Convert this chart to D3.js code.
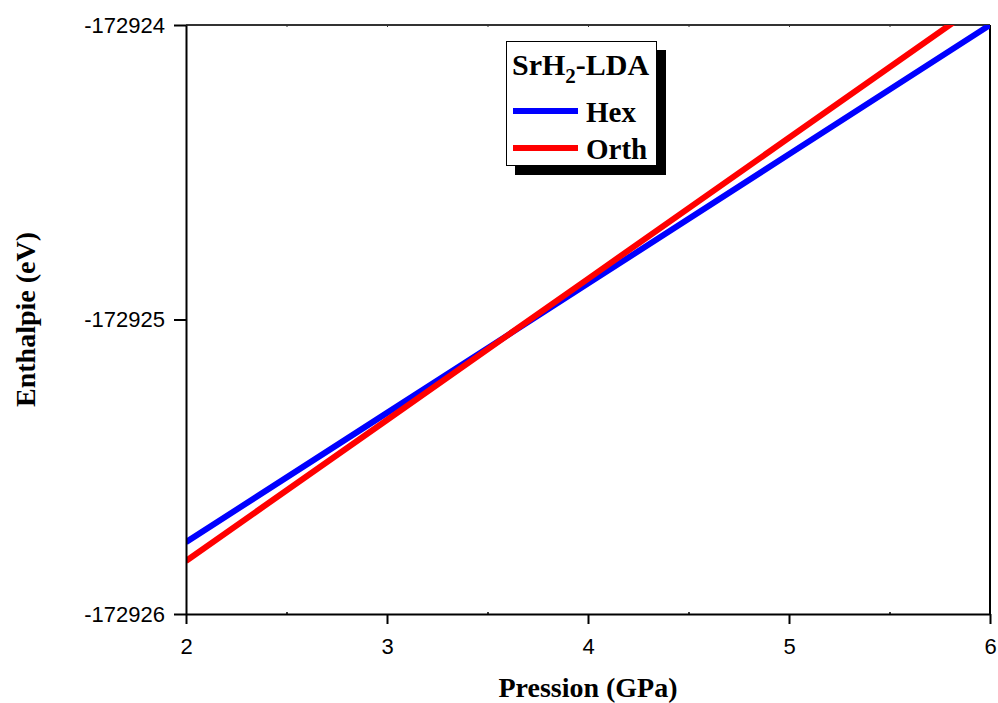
<!DOCTYPE html>
<html>
<head>
<meta charset="utf-8">
<script src="https://cdn.jsdelivr.net/npm/d3@7"></script>
<style>
  html, body { margin: 0; padding: 0; background: #fff; }
  svg { display: block; }
  .tick text { font-family: "Liberation Sans", Arial, sans-serif; }
</style>
</head>
<body>
<svg id="chart" width="998" height="703"></svg>
<script>
// Pressure (GPa) and enthalpy (eV) of SrH2, LDA calculations
const pressure = [2, 3, 4, 5, 6];
const hexEnthalpy  = [-172925.756, -172925.317, -172924.878, -172924.439, -172924.000];
const orthEnthalpy = [-172925.820, -172925.341, -172924.862, -172924.383, -172923.904];
const xTicks = [2, 3, 4, 5, 6];
const yTicks = [-172926, -172925, -172924];
const seriesNames = ["Hex", "Orth"];
const seriesColors = ["#0000ff", "#ff0000"];

const svg = d3.select("#chart");
const m = { left: 186, right: 990, top: 25, bottom: 614 };

const x = d3.scaleLinear().domain([2, 6]).range([m.left, m.right]);
const y = d3.scaleLinear().domain([-172926, -172924]).range([m.bottom, m.top]);

svg.append("defs").append("clipPath").attr("id", "plotClip")
  .append("rect")
  .attr("x", m.left).attr("y", m.top)
  .attr("width", m.right - m.left).attr("height", m.bottom - m.top);

// frame: top and right edges
svg.append("line").attr("x1", m.left).attr("x2", m.right).attr("y1", m.top).attr("y2", m.top)
  .attr("stroke", "#333").attr("stroke-width", 2);
svg.append("line").attr("x1", m.right).attr("x2", m.right).attr("y1", m.top).attr("y2", m.bottom)
  .attr("stroke", "#000").attr("stroke-width", 2);

// minor marks along the top edge
svg.append("g").attr("transform", `translate(0,${m.top})`)
  .call(d3.axisTop(x).tickValues(d3.range(2.5, 6, 0.5)).tickSize(-2).tickFormat(""))
  .call(g => g.select(".domain").remove())
  .call(g => g.selectAll("line").attr("stroke", "#333").attr("stroke-width", 1));

// series lines
const line = d3.line().x(d => x(d[0])).y(d => y(d[1]));
const series = [hexEnthalpy, orthEnthalpy];
const plot = svg.append("g").attr("clip-path", "url(#plotClip)");
series.forEach((vals, i) => {
  plot.append("path")
    .datum(pressure.map((p, j) => [p, vals[j]]))
    .attr("fill", "none")
    .attr("stroke", seriesColors[i])
    .attr("stroke-width", 6)
    .attr("d", line);
});

// x axis
const xAxis = svg.append("g").attr("transform", `translate(0,${m.bottom})`)
  .call(d3.axisBottom(x).tickValues(xTicks).tickSize(10).tickPadding(14).tickSizeOuter(0).tickFormat(d3.format("d")));
xAxis.select(".domain").attr("stroke", "#000").attr("stroke-width", 2);
xAxis.selectAll(".tick line").attr("stroke-width", 2);
xAxis.selectAll(".tick text").attr("font-size", 22).attr("fill", "#000");
svg.append("g").attr("transform", `translate(0,${m.bottom})`)
  .call(d3.axisTop(x).tickValues(d3.range(2.5, 6, 1)).tickSize(2).tickFormat(""))
  .call(g => g.select(".domain").remove())
  .call(g => g.selectAll("line").attr("stroke-width", 1.5));

// y axis
const yAxis = svg.append("g").attr("transform", `translate(${m.left},0)`)
  .call(d3.axisLeft(y).tickValues(yTicks).tickSize(12).tickPadding(9).tickSizeOuter(0).tickFormat(d3.format("d")));
yAxis.select(".domain").attr("stroke", "#000").attr("stroke-width", 2);
yAxis.selectAll(".tick line").attr("stroke-width", 2);
yAxis.selectAll(".tick text").attr("font-size", 22).attr("fill", "#000")
  .text(d => "-" + Math.abs(d));

// axis titles
svg.append("text")
  .attr("x", (m.left + m.right) / 2).attr("y", 697)
  .attr("text-anchor", "middle")
  .attr("font-family", "'Liberation Serif', 'Times New Roman', serif")
  .attr("font-weight", "bold").attr("font-size", 28)
  .text("Pression (GPa)");
svg.append("text")
  .attr("transform", `translate(35,${(m.top + m.bottom) / 2}) rotate(-90)`)
  .attr("text-anchor", "middle")
  .attr("font-family", "'Liberation Serif', 'Times New Roman', serif")
  .attr("font-weight", "bold").attr("font-size", 28)
  .text("Enthalpie (eV)");

// legend
const lg = svg.append("g");
lg.append("rect").attr("x", 515).attr("y", 50).attr("width", 151).attr("height", 125).attr("fill", "#000");
lg.append("rect").attr("x", 506.5).attr("y", 41.5).attr("width", 150).attr("height", 124)
  .attr("fill", "#fff").attr("stroke", "#000").attr("stroke-width", 1);
const title = lg.append("text").attr("x", 512).attr("y", 75)
  .attr("font-family", "'Liberation Serif', 'Times New Roman', serif")
  .attr("font-weight", "bold").attr("font-size", 30);
title.append("tspan").text("SrH");
title.append("tspan").attr("font-size", 21).attr("dy", 8).text("2");
title.append("tspan").attr("dy", -8).text("-LDA");
seriesNames.forEach((name, i) => {
  const cy = 111 + i * 37;
  lg.append("line").attr("x1", 513).attr("x2", 578).attr("y1", cy).attr("y2", cy)
    .attr("stroke", seriesColors[i]).attr("stroke-width", 6);
  lg.append("text").attr("x", 586).attr("y", cy + 11)
    .attr("font-family", "'Liberation Serif', 'Times New Roman', serif")
    .attr("font-weight", "bold").attr("font-size", 29)
    .text(name);
});
</script>
</body>
</html>
